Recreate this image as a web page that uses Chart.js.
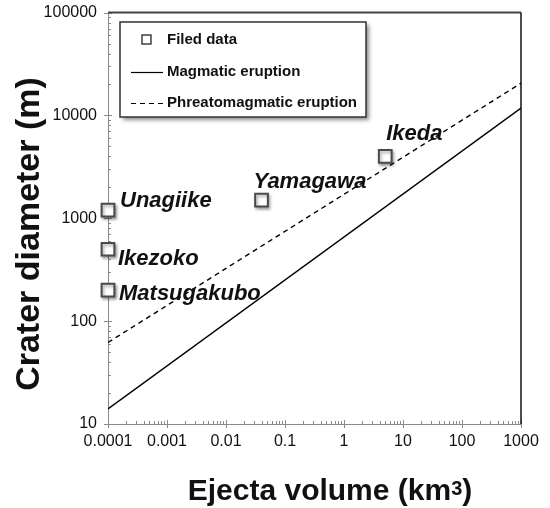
<!DOCTYPE html>
<html lang="en">
<head>
  <meta charset="UTF-8">
  <title>Crater diameter vs ejecta volume</title>
  <script src="https://cdn.jsdelivr.net/npm/chart.js"></script>
  <style>
    body { margin: 0; padding: 0; background: #fff; }
    .wrap { width: 550px; height: 508px; }
  </style>
</head>
<body>
  <div class="wrap"><canvas id="craterChart" width="550" height="508"></canvas></div>

  <script>
    // field data
    const sites = ['Unagiike', 'Ikezoko', 'Matsugakubo', 'Yamagawa', 'Ikeda'];
    const volume = [0.0001, 0.0001, 0.0001, 0.04, 5];
    const diameter = [1200, 500, 200, 1500, 4000];

    // regression lines (end points)
    const lineVolume = [0.0001, 1000];
    const magmatic = [14, 11800];
    const phreatomagmatic = [62, 20600];

    const xTickLabels = ['0.0001', '0.001', '0.01', '0.1', '1', '10', '100', '1000'];
    const yTickLabels = ['10', '100', '1000', '10000', '100000'];

    // label offsets from each point (px)
    const labelOffset = [[12, -9], [10, 10], [11, 4], [-8, -18], [1, -22]];

    const FONT = '"Liberation Sans", Arial, sans-serif';

    function isPow10(v) {
      const e = Math.log10(v);
      return Math.abs(e - Math.round(e)) < 1e-9;
    }

    function logTicks(scale) {
      const ticks = [];
      const lo = Math.round(Math.log10(scale.min));
      const hi = Math.round(Math.log10(scale.max));
      for (let k = lo; k < hi; k++) {
        for (let m = 1; m < 10; m++) ticks.push({ value: parseFloat((m * Math.pow(10, k)).toPrecision(6)) });
      }
      ticks.push({ value: Math.pow(10, hi) });
      scale.ticks = ticks;
    }

    const frame = {
      id: 'frame',
      beforeDatasetsDraw(chart) {
        const ctx = chart.ctx;
        const a = chart.chartArea;
        const xs = chart.scales.x, ys = chart.scales.y;
        ctx.save();
        // left / bottom axis
        ctx.strokeStyle = '#8a8a8a';
        ctx.lineWidth = 1;
        ctx.beginPath();
        ctx.moveTo(a.left + 0.5, a.top);
        ctx.lineTo(a.left + 0.5, a.bottom + 0.5);
        ctx.lineTo(a.right, a.bottom + 0.5);
        ctx.stroke();
        // ticks
        ctx.beginPath();
        xs.ticks.forEach(t => {
          const px = Math.round(xs.getPixelForValue(t.value)) + 0.5;
          const major = isPow10(t.value);
          ctx.moveTo(px, a.bottom + (major ? 4 : 0));
          ctx.lineTo(px, a.bottom - (major ? 4 : 3));
        });
        ys.ticks.forEach(t => {
          const py = Math.round(ys.getPixelForValue(t.value)) + 0.5;
          const major = isPow10(t.value);
          ctx.moveTo(a.left - (major ? 4 : 0), py);
          ctx.lineTo(a.left + (major ? 4 : 3), py);
        });
        ctx.stroke();
        // top / right frame
        ctx.strokeStyle = '#444';
        ctx.lineWidth = 2;
        ctx.beginPath();
        ctx.moveTo(a.left, a.top);
        ctx.lineTo(a.right, a.top);
        ctx.stroke();
        ctx.strokeStyle = '#111';
        ctx.lineWidth = 1.5;
        ctx.beginPath();
        ctx.moveTo(a.right, a.top);
        ctx.lineTo(a.right, a.bottom);
        ctx.stroke();
        ctx.restore();
      },
      beforeDatasetDraw(chart, args) {
        if (args.index === 0) {
          const ctx = chart.ctx;
          ctx.shadowColor = 'rgba(0,0,0,0.35)';
          ctx.shadowBlur = 3;
          ctx.shadowOffsetX = 1.5;
          ctx.shadowOffsetY = 2;
        }
      },
      afterDatasetDraw(chart, args) {
        if (args.index === 0) {
          const ctx = chart.ctx;
          ctx.shadowColor = 'rgba(0,0,0,0)';
          ctx.shadowBlur = 0;
          ctx.shadowOffsetX = 0;
          ctx.shadowOffsetY = 0;
        }
      },
      afterDatasetsDraw(chart) {
        const ctx = chart.ctx;
        ctx.save();

        // point labels
        const pts = chart.getDatasetMeta(0).data;
        ctx.fillStyle = '#111';
        ctx.font = 'italic bold 22px ' + FONT;
        ctx.textBaseline = 'middle';
        ctx.textAlign = 'left';
        sites.forEach((name, i) => {
          const p = pts[i];
          ctx.fillText(name, p.x + labelOffset[i][0], p.y + labelOffset[i][1]);
        });

        // legend box
        const bx = 120, by = 22, bw = 246, bh = 95;
        ctx.save();
        ctx.shadowColor = 'rgba(0,0,0,0.45)';
        ctx.shadowBlur = 4;
        ctx.shadowOffsetX = 3;
        ctx.shadowOffsetY = 3;
        ctx.fillStyle = '#fff';
        ctx.fillRect(bx, by, bw, bh);
        ctx.restore();
        ctx.strokeStyle = '#333';
        ctx.lineWidth = 1.5;
        ctx.strokeRect(bx, by, bw, bh);

        const ds = chart.data.datasets;
        const rows = [40, 72, 103];
        ctx.font = 'bold 15px ' + FONT;
        ctx.fillStyle = '#111';
        ds.forEach((d, i) => {
          const y = rows[i];
          if (i === 0) {
            ctx.strokeStyle = '#222';
            ctx.lineWidth = 1.3;
            ctx.strokeRect(142, y - 5, 9, 9);
          } else {
            ctx.strokeStyle = d.borderColor;
            ctx.lineWidth = 1.2;
            ctx.setLineDash(d.borderDash || []);
            ctx.beginPath();
            ctx.moveTo(131, y + 0.5);
            ctx.lineTo(163, y + 0.5);
            ctx.stroke();
            ctx.setLineDash([]);
          }
          ctx.fillText(d.label, 167, y);
        });

        // y title
        ctx.font = 'bold 34px ' + FONT;
        ctx.save();
        ctx.translate(30, 234);
        ctx.rotate(-Math.PI / 2);
        ctx.textAlign = 'center';
        ctx.fillText('Crater diameter (m)', 0, 0);
        ctx.restore();

        // x title with small 3
        const main = 'Ejecta volume (km';
        ctx.font = 'bold 30px ' + FONT;
        const w1 = ctx.measureText(main).width;
        ctx.font = 'bold 20px ' + FONT;
        const w2 = ctx.measureText('3').width;
        ctx.font = 'bold 30px ' + FONT;
        const w3 = ctx.measureText(')').width;
        const x0 = 330 - (w1 + w2 + w3) / 2;
        const base = 500;
        ctx.textAlign = 'left';
        ctx.textBaseline = 'alphabetic';
        ctx.fillText(main, x0, base);
        ctx.font = 'bold 20px ' + FONT;
        ctx.fillText('3', x0 + w1, base - 5);
        ctx.font = 'bold 30px ' + FONT;
        ctx.fillText(')', x0 + w1 + w2, base);

        ctx.restore();
      }
    };

    new Chart(document.getElementById('craterChart'), {
      type: 'scatter',
      data: {
        datasets: [
          {
            label: 'Filed data',
            data: volume.map((v, i) => ({ x: v, y: diameter[i] })),
            pointStyle: 'rect',
            pointRadius: 9,
            pointBackgroundColor: '#fff',
            pointBorderColor: '#4a4a4a',
            pointBorderWidth: 2,
            clip: false
          },
          {
            label: 'Magmatic eruption',
            data: lineVolume.map((v, i) => ({ x: v, y: magmatic[i] })),
            showLine: true,
            borderColor: '#000',
            borderWidth: 1.4,
            pointRadius: 0
          },
          {
            label: 'Phreatomagmatic eruption',
            data: lineVolume.map((v, i) => ({ x: v, y: phreatomagmatic[i] })),
            showLine: true,
            borderColor: '#000',
            borderWidth: 1.4,
            borderDash: [5, 4],
            pointRadius: 0
          }
        ]
      },
      options: {
        responsive: false,
        animation: false,
        layout: { padding: { top: 0, right: 29, left: 0, bottom: 0 } },
        plugins: {
          legend: { display: false },
          tooltip: { enabled: false }
        },
        scales: {
          x: {
            type: 'logarithmic',
            min: 0.0001,
            max: 1000,
            afterBuildTicks: logTicks,
            afterFit: s => { s.height = 84; },
            grid: { display: false },
            border: { display: false },
            ticks: {
              autoSkip: false,
              maxRotation: 0,
              padding: 0,
              color: '#111',
              font: { family: FONT, size: 16 },
              callback: v => isPow10(v) ? xTickLabels[Math.round(Math.log10(v)) + 4] : ''
            }
          },
          y: {
            type: 'logarithmic',
            min: 10,
            max: 100000,
            afterBuildTicks: logTicks,
            afterFit: s => { s.width = 108; },
            grid: { display: false },
            border: { display: false },
            ticks: {
              autoSkip: false,
              padding: 3,
              color: '#111',
              font: { family: FONT, size: 16 },
              callback: v => isPow10(v) ? yTickLabels[Math.round(Math.log10(v)) - 1] : ''
            }
          }
        }
      },
      plugins: [frame]
    });
  </script>
</body>
</html>
